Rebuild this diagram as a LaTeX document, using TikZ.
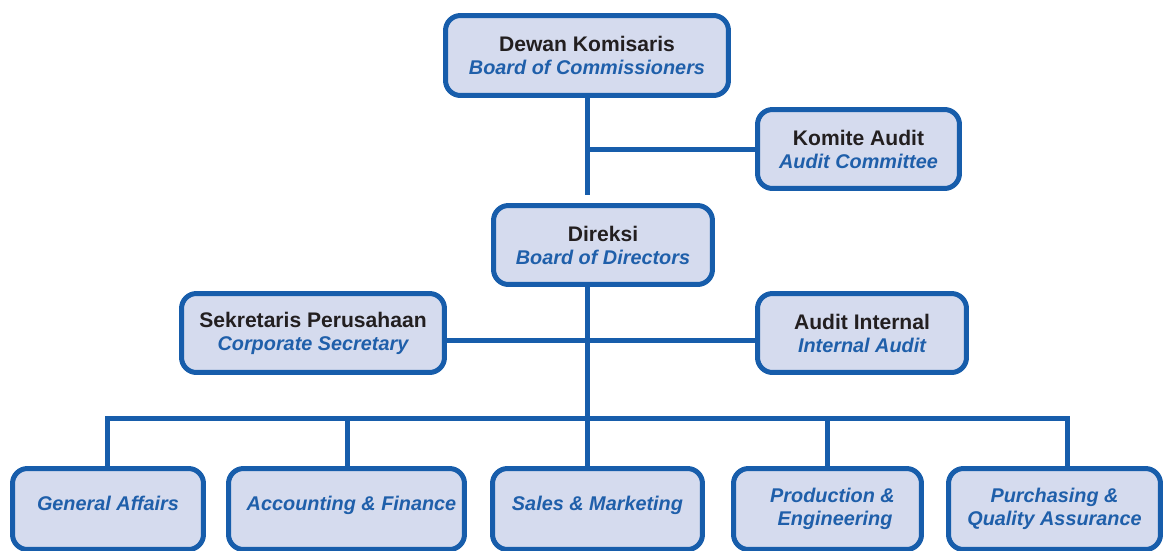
\documentclass[tikz,border=0pt]{standalone}
\usepackage{fontspec}
\setmainfont{Liberation Sans}
\definecolor{orgblue}{HTML}{175DAB}
\definecolor{orgfill}{HTML}{D5DBEE}
\definecolor{engblue}{HTML}{1F5FAA}
\definecolor{indoblack}{HTML}{231F20}
\newcommand{\indo}[1]{{\fontsize{12}{13}\selectfont\color{indoblack}#1}}
\newcommand{\engl}[1]{{\color{engblue}\itshape #1}}

\begin{document}
\begin{tikzpicture}[x=0.02cm,y=-0.02cm,
  orgbox/.style={draw=orgblue, fill=orgfill, line width=0.1cm, rounded corners=0.3cm,
    align=center, inner sep=0pt, minimum height=1.58cm,
    font=\fontsize{11.3}{13.1}\selectfont\bfseries},
  deptbox/.style={orgbox, minimum height=1.62cm},
  oneline/.style={text depth=0.23cm},
  orgline/.style={draw=orgblue, line width=0.1cm}]
\useasboundingbox (0,0) rectangle (1163,551);
% top level
\node[orgbox, minimum width=5.66cm, minimum height=1.6cm] (dk) at (587,55.5)
  {\indo{Dewan Komisaris}\\ \engl{Board of Commissioners}};
\node[orgbox, minimum width=4.04cm] (ka) at (858.5,149)
  {\indo{Komite Audit}\\ \engl{Audit Committee}};
\node[orgbox, minimum width=4.38cm] (dir) at (603,245)
  {\indo{Direksi}\\ \engl{Board of Directors}};
% staff next to the directors
\node[orgbox, minimum width=5.26cm] (sek) at (313,333)
  {\indo{Sekretaris Perusahaan}\\ \engl{Corporate Secretary}};
\node[orgbox, minimum width=4.18cm] (ai) at (862,333)
  {\indo{Audit Internal}\\ \engl{Internal Audit}};
% departments
\node[deptbox, oneline, minimum width=3.82cm] (ga) at (108,509)
  {\engl{General Affairs}};
\node[deptbox, oneline, minimum width=4.72cm] (acc) at (346.5,509)
  {\hspace*{0.2cm}\engl{Accounting \& Finance}};
\node[deptbox, oneline, minimum width=4.2cm] (sal) at (597.5,509)
  {\engl{Sales \& Marketing}};
\node[deptbox, minimum width=3.76cm] (pro) at (827.5,509)
  {\hspace*{0.2cm}\engl{Production \&}\\ \hspace*{0.3cm}\engl{Engineering}};
\node[deptbox, minimum width=4.24cm] (pur) at (1054.5,509)
  {\engl{Purchasing \&}\\ \engl{Quality Assurance}};
% connectors
\coordinate (trunk) at (587,195);
\coordinate (mid) at (587,340);
\coordinate (bus) at (587,418);
\draw[orgline] (dk.south) -- (trunk);
\draw[orgline] (ka.west) -- (ka.west -| trunk);
\draw[orgline] (dir.south -| trunk) -- (sal.north -| trunk);
\draw[orgline] (mid -| sek.east) -- (mid -| ai.west);
\coordinate (dga) at (107,0);
\coordinate (dacc) at (347,0);
\coordinate (dpro) at (827,0);
\coordinate (dpur) at (1067,0);
\draw[orgline] (ga.north -| dga) |- (bus) -| (pur.north -| dpur);
\draw[orgline] (bus -| dacc) -- (acc.north -| dacc);
\draw[orgline] (bus -| dpro) -- (pro.north -| dpro);
\end{tikzpicture}
\end{document}
